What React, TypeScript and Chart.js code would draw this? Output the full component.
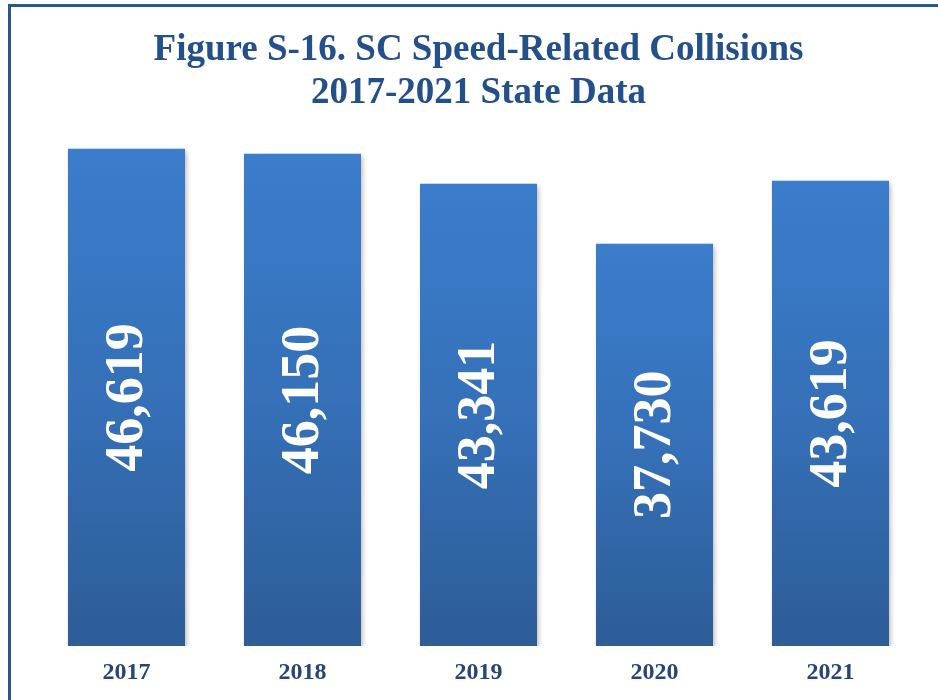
import React, { useEffect, useRef } from "react";
import { Chart, registerables } from "chart.js";

Chart.register(...registerables);

const years = ["2017", "2018", "2019", "2020", "2021"];
const collisions = [46619, 46150, 43341, 37730, 43619];
const titleLines = ["Figure S-16. SC Speed-Related Collisions", "2017-2021 State Data"];

const SERIF = "'Liberation Serif', 'Times New Roman', serif";

const barLabelPlugin = {
  id: "barLabels",
  afterDatasetsDraw(chart: any) {
    const ctx = chart.ctx;
    const meta = chart.getDatasetMeta(0);
    ctx.save();
    ctx.fillStyle = "#ffffff";
    ctx.font = `bold 54px ${SERIF}`;
    ctx.textAlign = "center";
    ctx.textBaseline = "middle";
    meta.data.forEach((bar: any, i: number) => {
      const { x, y, base } = bar.getProps(["x", "y", "base"], true);
      const cy = (y + base) / 2;
      ctx.save();
      ctx.translate(x + 2, cy);
      ctx.rotate(-Math.PI / 2);
      ctx.fillText(collisions[i].toLocaleString("en-US"), 0, 0);
      ctx.restore();
    });
    ctx.restore();
  },
};

const shadowPlugin = {
  id: "barShadow",
  beforeDatasetsDraw(chart: any) {
    const ctx = chart.ctx;
    ctx.save();
    ctx.shadowColor = "rgba(0,0,0,0.28)";
    ctx.shadowBlur = 5;
    ctx.shadowOffsetX = 2;
    ctx.shadowOffsetY = 2;
  },
  afterDatasetsDraw(chart: any) {
    chart.ctx.restore();
  },
};

export default function App() {
  const ref = useRef<HTMLCanvasElement | null>(null);

  useEffect(() => {
    if (!ref.current) return;
    const chart = new Chart(ref.current, {
      type: "bar",
      data: {
        labels: years,
        datasets: [
          {
            data: collisions,
            backgroundColor: (c: any) => {
              const chart = c.chart;
              const ys = chart.scales?.y;
              if (!ys || c.raw == null) return "#3575c2";
              const top = ys.getPixelForValue(c.raw);
              const bottom = ys.getPixelForValue(0);
              if (!isFinite(top) || !isFinite(bottom) || top === bottom) return "#3575c2";
              const g = chart.ctx.createLinearGradient(0, top, 0, bottom);
              g.addColorStop(0, "#3b7dcc");
              g.addColorStop(0.5, "#3570b8");
              g.addColorStop(1, "#2d5c96");
              return g;
            },
            borderWidth: 0,
            barPercentage: 0.665,
            categoryPercentage: 1,
          },
        ],
      },
      options: {
        animation: false,
        responsive: false,
        layout: { padding: { left: 38.5, right: 19.5, top: 3, bottom: 0 } },
        plugins: {
          legend: { display: false },
          tooltip: { enabled: false },
          title: {
            display: true,
            text: titleLines,
            color: "#23508a",
            font: { family: SERIF, size: 37, weight: "bold", lineHeight: 43 / 37 },
            padding: { top: 25.5, bottom: -1.7 },
          },
        },
        scales: {
          x: {
            grid: { display: false, drawTicks: false },
            border: { display: false },
            ticks: {
              color: "#24477a",
              font: { family: SERIF, size: 24, weight: "bold", lineHeight: 1 },
              padding: 15,
            },
          },
          y: {
            display: false,
            min: 0,
            max: 50000,
          },
        },
      },
      plugins: [shadowPlugin, barLabelPlugin],
    });
    return () => chart.destroy();
  }, []);

  return (
    <div
      style={{
        position: "absolute",
        left: 0,
        top: 0,
        width: 938,
        height: 700,
        overflow: "hidden",
        background: "#ffffff",
      }}
    >
      <div
        style={{
          position: "absolute",
          left: 8,
          top: 4,
          width: 960,
          height: 720,
          border: "3px solid #2b568c",
          boxSizing: "border-box",
        }}
      />
      <canvas ref={ref} width={938} height={700} style={{ position: "absolute", left: 0, top: 0 }} />
    </div>
  );
}
